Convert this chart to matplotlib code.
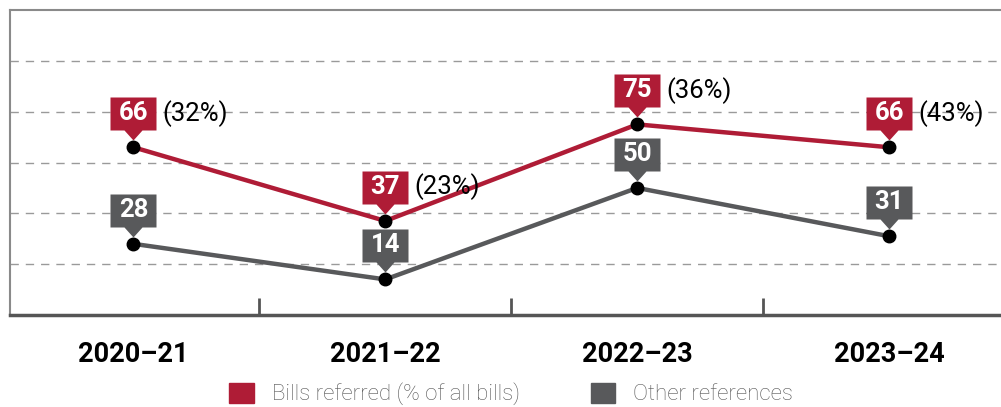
import matplotlib
matplotlib.use("Agg")
import matplotlib.pyplot as plt
from matplotlib.path import Path
from matplotlib.patches import Patch

plt.rcParams['font.family'] = ['Roboto', 'DejaVu Sans']

# data
years = ["2020–21", "2021–22", "2022–23", "2023–24"]
bills = [66, 37, 75, 66]
bills_pct = [32, 23, 36, 43]
other = [28, 14, 50, 31]

red = "#AF1C36"
grey = "#58595B"
DPI = 100

fig = plt.figure(figsize=(10.01, 4.07), dpi=DPI)
ax = fig.add_axes([10 / 1001, 92 / 407, 1 - 10 / 1001, 305 / 407])

x = list(range(len(years)))

# label shape (box + pointer) as a marker, in pixels relative to the point
verts = [(-23, 17), (-9, 17), (0, 7), (9, 17), (23, 17), (23, 50), (-23, 50), (-23, 17)]
codes = [Path.MOVETO] + [Path.LINETO] * 6 + [Path.CLOSEPOLY]
tag = Path(verts, codes)
tag_ms = 2 * 50 * 72 / DPI

ax.plot(x, other, color=grey, lw=3.2, zorder=2, solid_capstyle="round")
ax.plot(x, bills, color=red, lw=3.2, zorder=2, solid_capstyle="round")
ax.plot(x, other, ls="none", marker=tag, ms=tag_ms, mew=0, mfc=grey, zorder=3)
ax.plot(x, bills, ls="none", marker=tag, ms=tag_ms, mew=0, mfc=red, zorder=4)
ax.plot(x, other, ls="none", marker="o", ms=9, color="black", zorder=5)
ax.plot(x, bills, ls="none", marker="o", ms=9, color="black", zorder=5)

for i in x:
    ax.annotate(str(other[i]), (i, other[i]), xytext=(0, 34), textcoords="offset pixels",
                ha="center", va="center", color="white", fontsize=18.5, fontweight="bold", zorder=6)
    ax.annotate(str(bills[i]), (i, bills[i]), xytext=(0, 34), textcoords="offset pixels",
                ha="center", va="center", color="white", fontsize=18.5, fontweight="bold", zorder=6)
    ax.annotate("(%d%%)" % bills_pct[i], (i, bills[i]), xytext=(29, 34), textcoords="offset pixels",
                ha="left", va="center", color="black", fontsize=18.5, zorder=6)

ax.set_ylim(0, 120)
ax.set_xlim(-0.49, (1001 - 133) / 252)
ax.set_yticks([20, 40, 60, 80, 100])
ax.yaxis.grid(True, ls=(0, (6, 5)), color="#9a9a9a", lw=1)
ax.set_axisbelow(True)
ax.tick_params(axis="y", left=False, labelleft=False)

# boundaries between years as ticks, year labels on minor ticks
ax.set_xticks([0.5, 1.5, 2.5])
ax.set_xticklabels([])
ax.tick_params(axis="x", which="major", direction="in", length=12, width=2, color="#555555")
ax.set_xticks(x, minor=True)
ax.set_xticklabels(years, minor=True, fontsize=19.5, fontweight="bold")
ax.tick_params(axis="x", which="minor", length=0, pad=19)

for s in ["top", "left"]:
    ax.spines[s].set_color("#8a8a8a")
    ax.spines[s].set_linewidth(1.5)
ax.spines["bottom"].set_color("#555555")
ax.spines["bottom"].set_linewidth(2.5)
ax.spines["right"].set_visible(False)

handles = [Patch(color=red, label="Bills referred (% of all bills)"),
           Patch(color=grey, label="Other references")]
leg = fig.legend(handles=handles, loc="center", bbox_to_anchor=(511 / 1001, 13 / 407), ncol=2,
                 frameon=False, fontsize=16, handlelength=1.1, handleheight=1.0,
                 handletextpad=0.8, columnspacing=3.2, borderpad=0)
for t in leg.get_texts():
    t.set_color("#555555")
    t.set_fontweight("light")

fig.savefig("out.png", dpi=DPI)
